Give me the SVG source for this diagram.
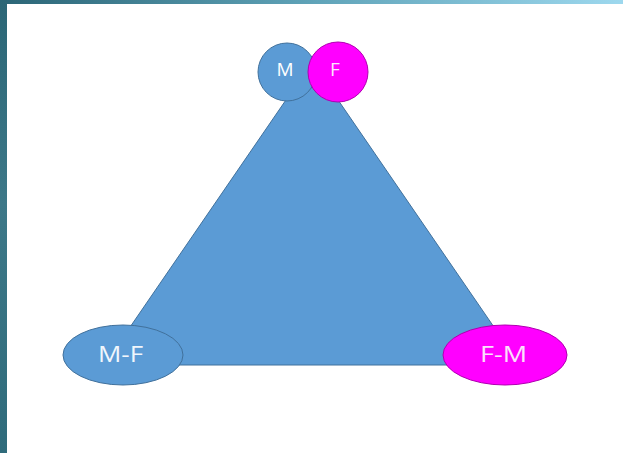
<svg xmlns="http://www.w3.org/2000/svg" width="623" height="453" viewBox="0 0 623 453">
  <defs>
    <linearGradient id="topg" x1="0" y1="0" x2="1" y2="0">
      <stop offset="0" stop-color="#2b6576"/>
      <stop offset="0.5" stop-color="#5fa3b8"/>
      <stop offset="1" stop-color="#9dd8ee"/>
    </linearGradient>
    <linearGradient id="leftg" x1="0" y1="0" x2="0" y2="1">
      <stop offset="0" stop-color="#2b6676"/>
      <stop offset="0.45" stop-color="#3d7888"/>
      <stop offset="1" stop-color="#2f6b7b"/>
    </linearGradient>
  </defs>
  <style>
    .blue { fill: #5b9bd5; stroke: #41719c; stroke-width: 1; }
    .pink { fill: #ff00ff; stroke: #b000b0; stroke-width: 1; }
    .lbl { font-family: "Open Sans", "Liberation Sans", sans-serif; text-anchor: middle; }
  </style>
  <rect x="0" y="0" width="623" height="453" fill="#ffffff"/>
  <rect x="0" y="0" width="623" height="4" fill="url(#topg)"/>
  <rect x="0" y="0" width="7" height="453" fill="url(#leftg)"/>

  <g id="triangle">
    <polygon class="blue" points="312,62 104,365 520,365"/>
  </g>
  <g id="connectors"></g>
  <g id="node-M">
    <circle class="blue" cx="287" cy="72" r="29"/>
    <text class="lbl" x="285" y="76" font-size="19" fill="#ffffff">M</text>
  </g>
  <g id="node-F">
    <circle class="pink" cx="338" cy="72" r="30"/>
    <text class="lbl" x="335" y="76" font-size="19" fill="#fbe6fb">F</text>
  </g>
  <g id="node-MF">
    <ellipse class="blue" cx="123" cy="355" rx="60" ry="30"/>
    <text class="lbl" x="120.5" y="362" font-size="21" fill="#f0f6fc" textLength="45" lengthAdjust="spacingAndGlyphs">M-F</text>
  </g>
  <g id="node-FM">
    <ellipse class="pink" cx="505" cy="355" rx="62" ry="30"/>
    <text class="lbl" x="503.5" y="362" font-size="21" fill="#fbe0fb" textLength="47" lengthAdjust="spacingAndGlyphs">F-M</text>
  </g>
</svg>
